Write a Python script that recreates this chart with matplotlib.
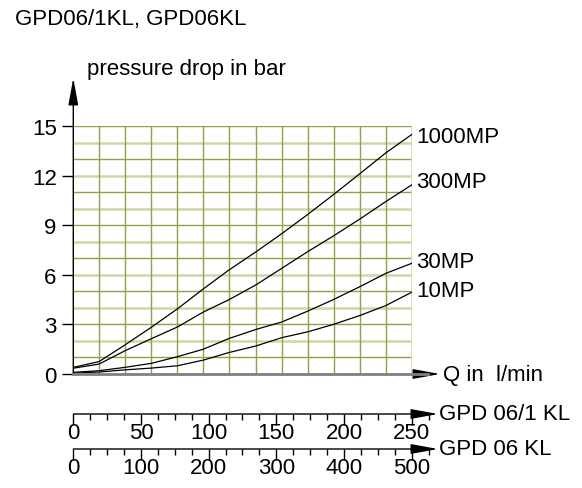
import matplotlib
matplotlib.use("Agg")
import matplotlib.pyplot as plt
from matplotlib.ticker import MultipleLocator

plt.rcParams['font.family'] = ['Liberation Sans', 'DejaVu Sans']

# flow (GPD 06/1 KL scale, l/min) at the grid columns
q = [0, 19, 38, 58, 77, 96, 115, 135, 154, 173, 192, 212, 231, 250]
dp_1000 = [0.4, 0.75, 1.75, 2.85, 3.95, 5.15, 6.3, 7.4, 8.5, 9.65, 10.85, 12.15, 13.4, 14.5]
dp_300 = [0.35, 0.6, 1.4, 2.15, 2.85, 3.75, 4.5, 5.4, 6.4, 7.4, 8.35, 9.4, 10.45, 11.45]
dp_30 = [0.1, 0.2, 0.4, 0.65, 1.05, 1.5, 2.15, 2.7, 3.15, 3.8, 4.5, 5.3, 6.1, 6.7]
dp_10 = [0.05, 0.12, 0.25, 0.36, 0.5, 0.84, 1.3, 1.7, 2.2, 2.55, 3.0, 3.55, 4.15, 4.95]
curve_names = ['1000MP', '300MP', '30MP', '10MP']
label_y = [138, 182, 263, 292]  # image pixel rows of the curve labels

y_ticks = [0, 3, 6, 9, 12, 15]
scale1_ticks = [0, 50, 100, 150, 200, 250]
scale2_ticks = [0, 100, 200, 300, 400, 500]

W, H = 582, 489
FS = 16
OLIVE = '#9c9c50'
LIGHT = '#d4d4a6'
ARROW = '-|>,head_length=1.1,head_width=0.2'


def fx(x):
    return x / W


def fy(y):
    return 1 - y / H


fig = plt.figure(figsize=(W / 100, H / 100), dpi=100)

# main plot area (image pixels)
left, right, top, bottom = 73.3, 411.7, 127.3, 375.0
ax = fig.add_axes([fx(left), fy(bottom), fx(right - left), (bottom - top) / H])
ax.set_xlim(0, 250)
ax.set_ylim(0, 15)
for s in ax.spines.values():
    s.set_visible(False)

# grid
for v in range(1, 16):
    if v % 2 == 1:
        ax.axhline(v, color=OLIVE, lw=1.0, zorder=1)
    else:
        ax.axhline(v, color=LIGHT, lw=1.8, zorder=1)
for k in range(1, 14):
    xv = 250 * k / 13
    ax.axvline(xv, color=LIGHT if k == 13 else OLIVE, lw=1.8 if k == 13 else 1.0, zorder=1)

for dp, name in zip([dp_1000, dp_300, dp_30, dp_10], curve_names):
    ax.plot(q, dp, color='black', lw=0.9, zorder=3)

ax.set_xticks([])
ax.set_yticks(y_ticks)
ax.tick_params(axis='y', length=8, width=1, color='black', labelsize=FS, pad=4)

# axes with arrows
ax.annotate('', xy=(left, H - 79), xytext=(left, H - bottom), xycoords='figure pixels',
            arrowprops=dict(arrowstyle=ARROW, color='black', lw=1,
                            mutation_scale=15, shrinkA=0, shrinkB=0))
fig.add_artist(plt.Line2D([fx(left), fx(428)], [fy(bottom), fy(bottom)], color='#808080', lw=2))
ax.annotate('', xy=(440, H - bottom), xytext=(424, H - bottom), xycoords='figure pixels',
            arrowprops=dict(arrowstyle=ARROW, color='black', lw=1,
                            mutation_scale=15, shrinkA=0, shrinkB=0))

# texts
fig.text(fx(15), fy(19), 'GPD06/1KL, GPD06KL', fontsize=FS, va='center', ha='left')
fig.text(fx(87), fy(70), 'pressure drop in bar', fontsize=FS, va='center', ha='left')
fig.text(fx(443), fy(376), 'Q in  l/min', fontsize=FS, va='center', ha='left')
for name, yl in zip(curve_names, label_y):
    fig.text(fx(416), fy(yl), name, fontsize=FS, va='center', ha='left')


# secondary flow scales
def flow_scale(y_line, ticks, minor, name):
    tip = 438
    xmax = ticks[-1] * (tip - left) / (right - left)
    a = fig.add_axes([fx(left), fy(y_line), fx(tip - left), 0.001])
    a.set_xlim(0, xmax)
    a.set_yticks([])
    for s in ['top', 'left', 'right', 'bottom']:
        a.spines[s].set_visible(False)
    a.patch.set_visible(False)
    a.set_xticks(ticks)
    a.xaxis.set_minor_locator(MultipleLocator(minor))
    a.tick_params(axis='x', which='major', length=8, width=1, labelsize=FS, pad=-2)
    a.tick_params(axis='x', which='minor', length=4, width=1)
    a.annotate('', xy=(tip, H - y_line), xytext=(left, H - y_line), xycoords='figure pixels',
               arrowprops=dict(arrowstyle=ARROW, color='black', lw=1,
                               mutation_scale=15, shrinkA=0, shrinkB=0))
    fig.text(fx(tip + 1), fy(y_line), name, fontsize=FS, va='center', ha='left')


flow_scale(415, scale1_ticks, 12.5, 'GPD 06/1 KL')
flow_scale(450, scale2_ticks, 25, 'GPD 06 KL')

fig.savefig('out.png', dpi=100)
